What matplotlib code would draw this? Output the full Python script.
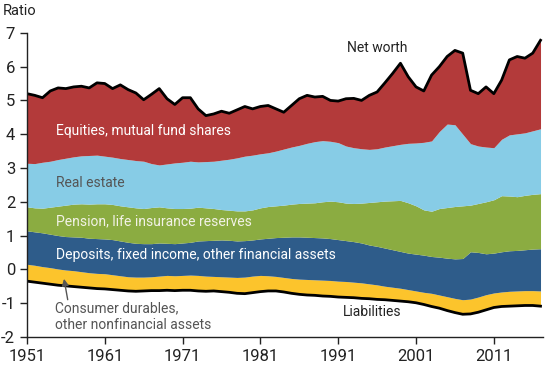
import numpy as np
import matplotlib
matplotlib.use("Agg")
import matplotlib.pyplot as plt

plt.rcParams['font.family'] = ['Roboto', 'DejaVu Sans']

years = np.arange(1951, 2018)

# layer boundaries, ratio to disposable income
liabilities = [-0.35, -0.38, -0.41, -0.44, -0.47, -0.49, -0.51, -0.53, -0.55, -0.57,
               -0.58, -0.60, -0.62, -0.64, -0.65, -0.64, -0.63, -0.63, -0.62, -0.63,
               -0.62, -0.62, -0.64, -0.65, -0.64, -0.66, -0.68, -0.71, -0.72, -0.69,
               -0.66, -0.64, -0.64, -0.67, -0.71, -0.74, -0.76, -0.77, -0.79, -0.80,
               -0.82, -0.83, -0.84, -0.86, -0.87, -0.89, -0.90, -0.92, -0.94, -0.96,
               -0.99, -1.04, -1.10, -1.15, -1.22, -1.28, -1.33, -1.32, -1.27, -1.20,
               -1.13, -1.10, -1.09, -1.08, -1.07, -1.07, -1.09]
durables_top = [0.15, 0.12, 0.08, 0.05, 0.01, -0.02, -0.04, -0.07, -0.10, -0.12,
                -0.13, -0.16, -0.19, -0.22, -0.23, -0.23, -0.22, -0.20, -0.18, -0.19,
                -0.18, -0.17, -0.18, -0.20, -0.21, -0.22, -0.23, -0.24, -0.23, -0.20,
                -0.18, -0.19, -0.21, -0.24, -0.27, -0.29, -0.30, -0.31, -0.32, -0.33,
                -0.35, -0.36, -0.38, -0.40, -0.43, -0.46, -0.50, -0.53, -0.56, -0.60,
                -0.64, -0.68, -0.71, -0.76, -0.81, -0.86, -0.90, -0.88, -0.82, -0.75,
                -0.70, -0.67, -0.65, -0.64, -0.63, -0.63, -0.64]
deposits_top = [1.14, 1.11, 1.08, 1.04, 1.00, 0.97, 0.96, 0.95, 0.92, 0.91,
                0.90, 0.88, 0.84, 0.80, 0.77, 0.76, 0.76, 0.78, 0.77, 0.76,
                0.78, 0.80, 0.84, 0.85, 0.86, 0.87, 0.86, 0.84, 0.85, 0.87,
                0.90, 0.92, 0.94, 0.95, 0.96, 0.96, 0.95, 0.94, 0.93, 0.91,
                0.88, 0.85, 0.82, 0.78, 0.72, 0.68, 0.63, 0.58, 0.53, 0.48,
                0.45, 0.42, 0.38, 0.36, 0.33, 0.31, 0.32, 0.52, 0.50, 0.46,
                0.48, 0.52, 0.55, 0.56, 0.58, 0.60, 0.61]
pension_top = [1.85, 1.82, 1.81, 1.84, 1.87, 1.90, 1.93, 1.94, 1.93, 1.94,
               1.94, 1.92, 1.88, 1.85, 1.82, 1.80, 1.83, 1.85, 1.82, 1.80,
               1.80, 1.81, 1.84, 1.82, 1.80, 1.77, 1.75, 1.73, 1.73, 1.76,
               1.82, 1.86, 1.88, 1.90, 1.93, 1.95, 1.96, 1.97, 2.00, 2.02,
               2.00, 1.96, 1.95, 1.96, 1.98, 2.00, 2.02, 2.03, 2.04, 1.97,
               1.88, 1.76, 1.72, 1.80, 1.83, 1.86, 1.88, 1.90, 1.95, 2.00,
               2.06, 2.18, 2.17, 2.15, 2.19, 2.22, 2.24]
realestate_top = [3.14, 3.13, 3.17, 3.20, 3.25, 3.29, 3.33, 3.36, 3.37, 3.38,
                  3.35, 3.32, 3.28, 3.25, 3.22, 3.20, 3.13, 3.09, 3.12, 3.15,
                  3.17, 3.20, 3.18, 3.19, 3.20, 3.23, 3.26, 3.30, 3.35, 3.38,
                  3.42, 3.45, 3.50, 3.56, 3.62, 3.67, 3.73, 3.78, 3.81, 3.79,
                  3.75, 3.65, 3.60, 3.57, 3.55, 3.57, 3.62, 3.66, 3.70, 3.73,
                  3.74, 3.76, 3.80, 4.08, 4.30, 4.28, 4.00, 3.72, 3.65, 3.62,
                  3.60, 3.85, 3.98, 4.01, 4.04, 4.10, 4.16]
net_worth = [5.20, 5.15, 5.08, 5.28, 5.37, 5.35, 5.40, 5.42, 5.37, 5.52,
             5.50, 5.35, 5.46, 5.32, 5.22, 5.02, 5.18, 5.35, 5.05, 4.88,
             5.08, 5.08, 4.75, 4.55, 4.60, 4.68, 4.62, 4.72, 4.82, 4.75,
             4.82, 4.85, 4.75, 4.65, 4.85, 5.05, 5.15, 5.10, 5.12, 5.00,
             4.98, 5.05, 5.06, 5.00, 5.15, 5.25, 5.52, 5.80, 6.10, 5.70,
             5.40, 5.28, 5.75, 6.00, 6.30, 6.48, 6.40, 5.30, 5.20, 5.40,
             5.20, 5.60, 6.20, 6.30, 6.25, 6.40, 6.78]

xticks = [1951, 1961, 1971, 1981, 1991, 2001, 2011]
yticks = [-2, -1, 0, 1, 2, 3, 4, 5, 6, 7]

fig = plt.figure(figsize=(5.5, 3.65), dpi=100)
ax = fig.add_axes([0.049, 0.077, 0.938, 0.833])

ax.fill_between(years, liabilities, durables_top, color='#FCC42C', lw=0)
ax.fill_between(years, durables_top, deposits_top, color='#2E5C8A', lw=0)
ax.fill_between(years, deposits_top, pension_top, color='#8BAC41', lw=0)
ax.fill_between(years, pension_top, realestate_top, color='#87CCE6', lw=0)
ax.fill_between(years, realestate_top, net_worth, color='#B33A3A', lw=0)
ax.plot(years, net_worth, color='black', lw=2)
ax.plot(years, liabilities, color='black', lw=2)

fs = 10
ax.text(1996, 6.55, 'Net worth', fontsize=fs, color='#222222', ha='center', va='center')
ax.text(1954.7, 4.1, 'Equities, mutual fund shares', fontsize=fs, color='white', va='center')
ax.text(1954.7, 2.57, 'Real estate', fontsize=fs, color='#555555', va='center')
ax.text(1954.7, 1.42, 'Pension, life insurance reserves', fontsize=fs, color='#F2F2E6', va='center')
ax.text(1954.7, 0.41, 'Deposits, fixed income, other financial assets', fontsize=fs,
        color='white', va='center')
ax.text(1954.6, -1.4, 'Consumer durables,\nother nonfinancial assets', fontsize=fs,
        color='#555555', va='center', linespacing=1.25)
ax.text(1995.4, -1.27, 'Liabilities', fontsize=fs, color='#222222', ha='center', va='center')
ax.annotate('', xy=(1955.7, -0.2), xytext=(1956.3, -0.98),
            arrowprops=dict(arrowstyle='-|>', color='#555555', lw=1, mutation_scale=10))

ax.set_xlim(1951, 2017.3)
ax.set_ylim(-2, 7)
ax.set_xticks(xticks)
ax.set_xticklabels([str(y) for y in xticks])
ax.set_yticks(yticks)
ax.set_yticklabels([str(y) for y in yticks])
ax.tick_params(labelsize=12, colors='#222222', length=5, width=1, direction='out')
for side in ['top', 'right']:
    ax.spines[side].set_visible(False)
for side in ['left', 'bottom']:
    ax.spines[side].set_color('#222222')
    ax.spines[side].set_linewidth(1)

fig.text(0.005, 0.97, 'Ratio', fontsize=10.5, color='#222222', ha='left', va='center')

fig.savefig('out.png', dpi=100)
